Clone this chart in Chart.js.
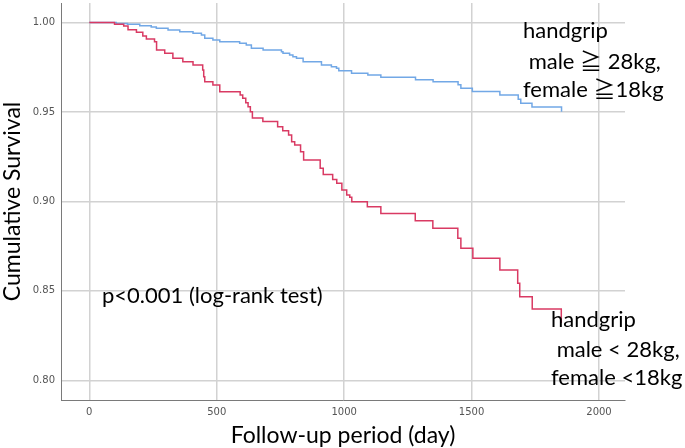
<!DOCTYPE html>
<html lang="en">
<head>
    <meta charset="UTF-8">
    <title>Cumulative Survival by Handgrip</title>
    <script src="https://cdn.jsdelivr.net/npm/chart.js"></script>
    <style>
        body {
            margin: 0;
            background: #ffffff;
        }
        #wrap {
            width: 685px;
            height: 448px;
        }
    </style>
</head>
<body>
    <div id="wrap"><canvas id="kmChart" width="685" height="448"></canvas></div>
    <script>
        // axis ticks
        const xTicks = [0, 500, 1000, 1500, 2000];
        const yTicks = [0.80, 0.85, 0.90, 0.95, 1.00];

        // low handgrip group (male < 28kg, female < 18kg)
        const lowDays = [0, 99, 135, 152, 185, 210, 224, 256, 264, 296, 328, 367, 407, 445, 449, 453, 485, 512, 592, 602,
            614, 623, 632, 640, 681, 739, 759, 782, 794, 806, 829, 841, 906, 918, 955, 971, 991, 1010, 1022, 1030,
            1091, 1144, 1279, 1348, 1446, 1458, 1505, 1611, 1681, 1689, 1738, 1852];
        const lowSurv = [1, 0.9990, 0.9980, 0.9960, 0.9945, 0.9925, 0.9908, 0.9893, 0.9846, 0.9828, 0.9800, 0.9781, 0.9762, 0.9734, 0.9697, 0.9669, 0.9651, 0.9613, 0.9595, 0.9576,
            0.9552, 0.9529, 0.9501, 0.9466, 0.9446, 0.9418, 0.9395, 0.9371, 0.9334, 0.9315, 0.9278, 0.9231, 0.9185, 0.9151, 0.9123, 0.9101, 0.9064, 0.9036, 0.9023, 0.8998,
            0.8970, 0.8933, 0.8892, 0.8850, 0.8794, 0.8738, 0.8682, 0.8617, 0.8542, 0.8467, 0.8399, 0.8320];

        // normal handgrip group (male >= 28kg, female >= 18kg)
        const highDays = [0, 106, 150, 198, 243, 263, 309, 355, 407, 440, 453, 485, 512, 590, 616, 636, 682, 754, 760, 786,
            799, 813, 839, 911, 950, 970, 979, 1029, 1093, 1144, 1280, 1349, 1447, 1458, 1503, 1611, 1683, 1693, 1737, 1853];
        const highSurv = [1, 0.9995, 0.9990, 0.9982, 0.9975, 0.9968, 0.9958, 0.9949, 0.9940, 0.9930, 0.9912, 0.9902, 0.9893, 0.9884, 0.9874, 0.9856, 0.9846, 0.9837, 0.9828, 0.9818,
            0.9809, 0.9800, 0.9781, 0.9762, 0.9753, 0.9744, 0.9731, 0.9716, 0.9707, 0.9694, 0.9680, 0.9669, 0.9652, 0.9632, 0.9615, 0.9595, 0.9571, 0.9549, 0.9528, 0.9501];

        const toPoints = (xs, ys) => xs.map((x, i) => ({ x: x, y: ys[i] }));

        const textFont = 'Lato, "Noto Sans CJK JP", sans-serif';

        // text labels written on the plot
        const labelPlugin = {
            id: 'labels',
            afterDraw(chart) {
                const ctx = chart.ctx;
                ctx.save();
                ctx.fillStyle = '#000000';
                ctx.textBaseline = 'middle';
                ctx.textAlign = 'left';
                ctx.font = '22px ' + textFont;
                ctx.fillText('handgrip', 523, 31);
                ctx.fillText(' male \u2267 28kg,', 523, 62);
                ctx.fillText('female \u226718kg', 523, 90);
                ctx.fillText('p<0.001 (log-rank test)', 102, 296);
                ctx.fillText('handgrip', 551, 320);
                ctx.fillText(' male < 28kg,', 551, 350);
                ctx.fillText('female <18kg', 551, 378);
                ctx.restore();
            }
        };

        // keep the plot edges where the axes end, no extra room for tick labels
        const noEdgePadding = (scale) => {
            scale.paddingTop = 0;
            scale.paddingBottom = 0;
            scale.paddingLeft = 0;
            scale.paddingRight = 0;
        };

        const ctx = document.getElementById('kmChart').getContext('2d');
        const kmChart = new Chart(ctx, {
            type: 'line',
            data: {
                datasets: [{
                    label: 'handgrip male < 28kg, female <18kg',
                    data: toPoints(lowDays, lowSurv),
                    borderColor: '#d93a63',
                    borderWidth: 1.5,
                    stepped: true,
                    pointRadius: 0,
                    fill: false
                }, {
                    label: 'handgrip male \u2267 28kg, female \u226718kg',
                    data: toPoints(highDays, highSurv),
                    borderColor: '#72a8e6',
                    borderWidth: 1.5,
                    stepped: true,
                    pointRadius: 0,
                    fill: false
                }]
            },
            options: {
                responsive: false,
                animation: false,
                layout: {
                    padding: { top: 3, right: 60, left: 0, bottom: 0 }
                },
                plugins: {
                    legend: { display: false },
                    tooltip: { enabled: false }
                },
                scales: {
                    x: {
                        type: 'linear',
                        min: -111,
                        max: 2102,
                        afterBuildTicks: (scale) => { scale.ticks = xTicks.map(v => ({ value: v })); },
                        afterFit: (scale) => { scale.height = 48; noEdgePadding(scale); },
                        grid: { color: '#d2d2d2', lineWidth: 1.5, drawTicks: false },
                        border: { color: '#7a7a7a', width: 1 },
                        ticks: {
                            padding: 6,
                            color: '#555555',
                            font: { family: 'DejaVu Sans', size: 10 },
                            callback: (v) => String(v)
                        },
                        title: {
                            display: true,
                            text: 'Follow-up period (day)',
                            color: '#000000',
                            font: { family: textFont, size: 23, lineHeight: 1.05 },
                            padding: { top: 0, bottom: 0 }
                        }
                    },
                    y: {
                        min: 0.789,
                        max: 1.0109,
                        afterBuildTicks: (scale) => { scale.ticks = yTicks.map(v => ({ value: v })); },
                        afterFit: (scale) => { scale.width = 61; noEdgePadding(scale); },
                        grid: { color: '#d2d2d2', lineWidth: 1.5, drawTicks: false },
                        border: { color: '#7a7a7a', width: 1 },
                        ticks: {
                            padding: 6,
                            color: '#555555',
                            font: { family: 'DejaVu Sans', size: 10 },
                            callback: (v) => Number(v).toFixed(2)
                        },
                        title: {
                            display: true,
                            text: 'Cumulative Survival',
                            color: '#000000',
                            font: { family: textFont, size: 23, lineHeight: 1.05 },
                            padding: { top: 1, bottom: 0 }
                        }
                    }
                }
            },
            plugins: [labelPlugin]
        });
    </script>
</body>
</html>
